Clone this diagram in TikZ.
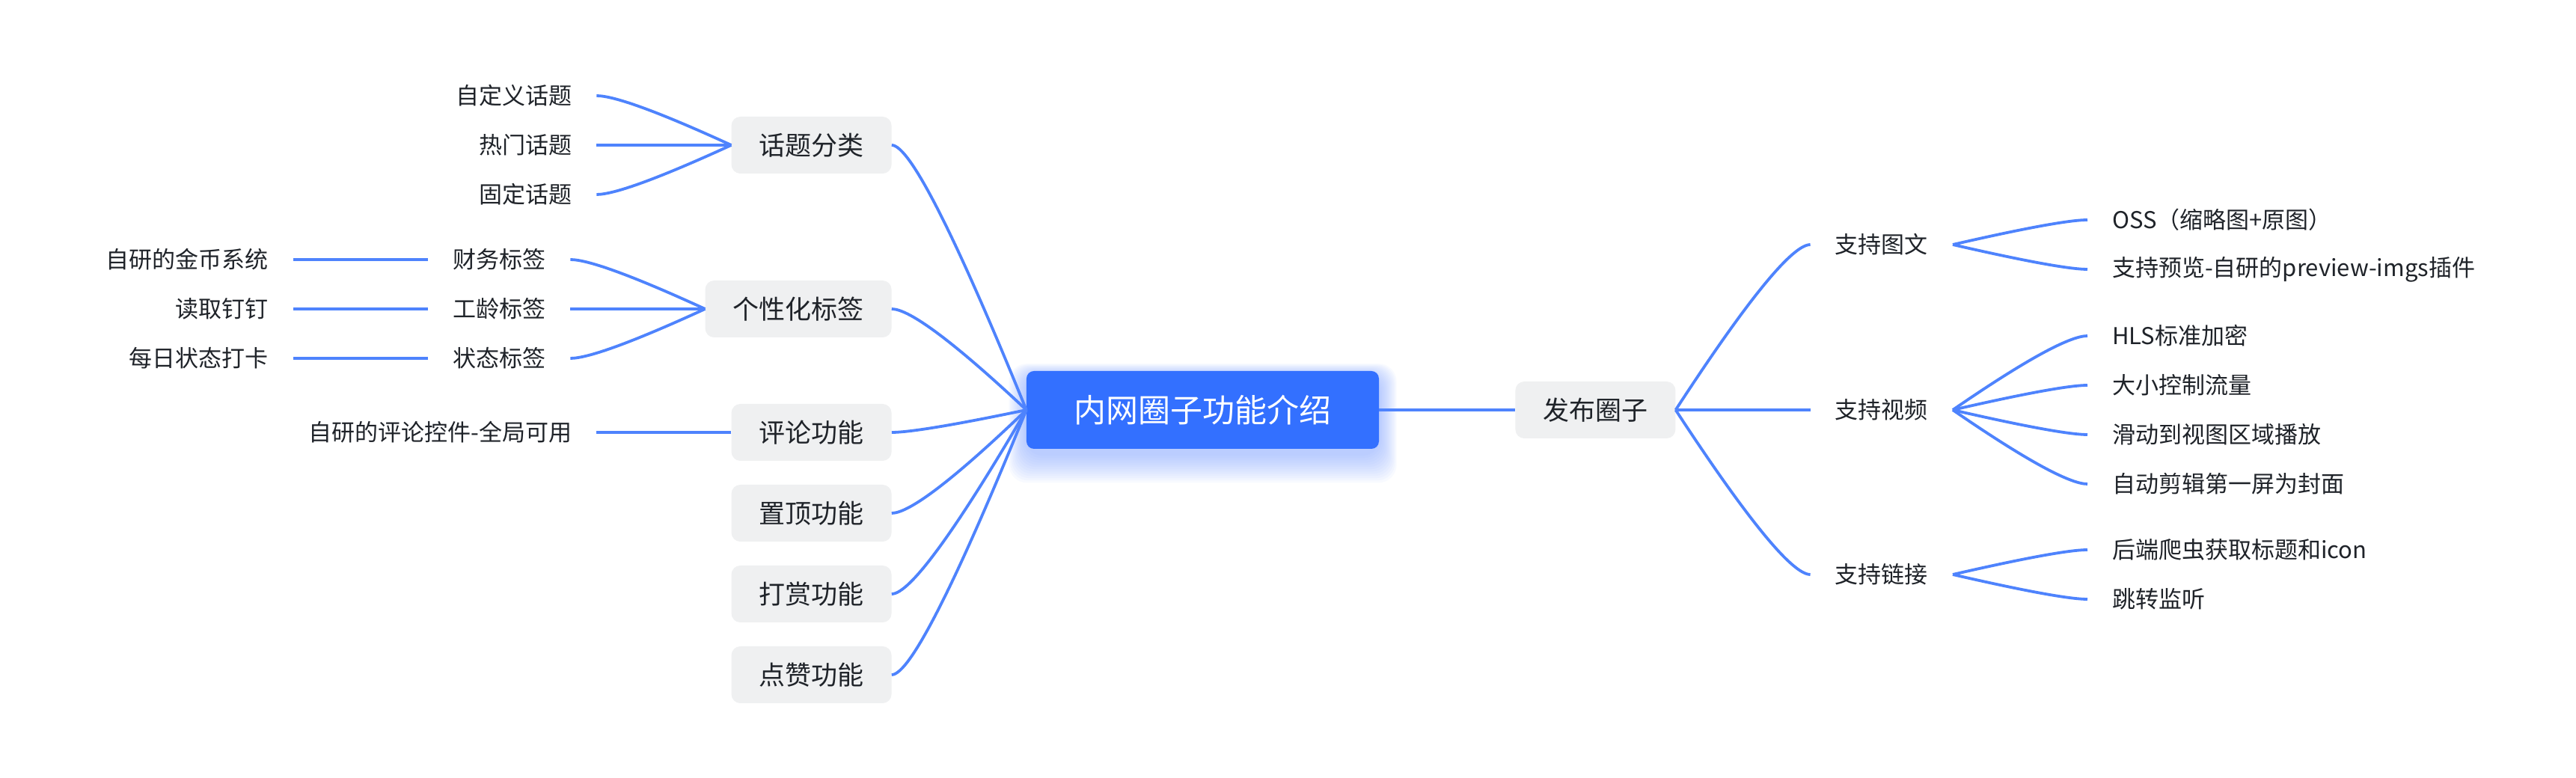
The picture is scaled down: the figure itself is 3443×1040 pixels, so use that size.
\documentclass[tikz,border=0pt]{standalone}
\usepackage{fontspec}
\setmainfont{Noto Sans CJK SC}
\usetikzlibrary{positioning, calc, backgrounds}

\definecolor{rootblue}{HTML}{3370FF}
\definecolor{linkblue}{HTML}{4E83FD}
\definecolor{boxgray}{HTML}{EFF0F1}
\definecolor{inkgray}{HTML}{1F2329}
\definecolor{glowblue}{HTML}{7FA3FF}

\newcommand{\twig}[2]{%
  \draw[link] let \p1=(#1), \p2=(#2) in
    (\p1) .. controls ({\x1+0.533*(\x2-\x1)},{\y1+0.667*(\y2-\y1)})
      and ({\x2-0.133*(\x2-\x1)},\y2) .. (\p2);}

\begin{document}
\begin{tikzpicture}[node distance=180pt and 180pt]
    \tikzset{
      root/.style={
        rectangle, rounded corners=10pt, fill=rootblue, text=white,
        minimum width=471pt, minimum height=104pt, inner sep=0pt,
        font=\fontsize{43}{50}\selectfont
      },
      box/.style={
        rectangle, rounded corners=12pt, fill=boxgray, text=inkgray,
        minimum height=76pt, inner xsep=37pt, inner ysep=0pt,
        font=\fontsize{35}{42}\selectfont
      },
      topic/.style={
        inner xsep=33pt, inner ysep=0pt, minimum height=40pt,
        text=inkgray, font=\fontsize{31}{37}\selectfont
      },
      link/.style={draw=linkblue, line width=3.8pt}
    }

    \begin{scope}[on background layer]
      \fill[white] (-1607.5pt,-492pt) rectangle (1835.5pt,548pt);
    \end{scope}
    \useasboundingbox (-1607.5pt,-492pt) rectangle (1835.5pt,548pt);

    % Root
    \node[root] (root) at (0,0) {内网圈子功能介绍};
    \begin{scope}[on background layer]
      \foreach \k in {3,6,...,39}
        \fill[glowblue, opacity=0.05, rounded corners=24pt]
          ([shift={({-\k*0.6pt},{-\k*1pt-6pt})}]root.south west) rectangle
          ([shift={({\k*0.6pt},{\k*0.4pt-6pt})}]root.north east);
    \end{scope}

    % Right branch
    \node[box, right=182pt of root] (fabu) {发布圈子};
    \node[topic, right=of fabu, yshift=221pt] (tuwen) {支持图文};
    \node[topic, right=of fabu] (shipin) {支持视频};
    \node[topic, right=of fabu, yshift=-220pt] (lianjie) {支持链接};

    \node[topic, right=of tuwen, yshift=33pt] (oss) {OSS（缩略图+原图）};
    \node[topic, right=of tuwen, yshift=-33pt] (yulan) {支持预览-自研的preview-imgs插件};
    \node[topic, right=of shipin, yshift=99pt] (hls) {HLS标准加密};
    \node[topic, right=of shipin, yshift=33pt] (liuliang) {大小控制流量};
    \node[topic, right=of shipin, yshift=-33pt] (bofang) {滑动到视图区域播放};
    \node[topic, right=of shipin, yshift=-99pt] (fengmian) {自动剪辑第一屏为封面};
    \node[topic, right=of lianjie, yshift=33pt] (paqu) {后端爬虫获取标题和icon};
    \node[topic, right=of lianjie, yshift=-33pt] (jianting) {跳转监听};

    % Left branch
    \node[box, left=of root, yshift=354pt] (huati) {话题分类};
    \node[box, left=of root, yshift=135pt] (gexing) {个性化标签};
    \node[box, left=of root, yshift=-30pt] (pinglun) {评论功能};
    \node[box, left=of root, yshift=-138pt] (zhiding) {置顶功能};
    \node[box, left=of root, yshift=-246pt] (dashang) {打赏功能};
    \node[box, left=of root, yshift=-354pt] (dianzan) {点赞功能};

    \node[topic, left=of huati, yshift=66pt] (zidingyi) {自定义话题};
    \node[topic, left=of huati] (remen) {热门话题};
    \node[topic, left=of huati, yshift=-66pt] (guding) {固定话题};
    \node[topic, left=of gexing, yshift=66pt] (caiwu) {财务标签};
    \node[topic, left=of gexing] (gongling) {工龄标签};
    \node[topic, left=of gexing, yshift=-66pt] (zhuangtai) {状态标签};
    \node[topic, left=of caiwu] (jinbi) {自研的金币系统};
    \node[topic, left=of gongling] (dingding) {读取钉钉};
    \node[topic, left=of zhuangtai] (daka) {每日状态打卡};
    \node[topic, left=of pinglun] (kongjian) {自研的评论控件-全局可用};

    % Connectors
    \draw[link] (root) -- (fabu);
    \foreach \kid in {tuwen, shipin, lianjie} \twig{fabu.east}{\kid.west};
    \foreach \kid in {oss, yulan} \twig{tuwen.east}{\kid.west};
    \foreach \kid in {hls, liuliang, bofang, fengmian} \twig{shipin.east}{\kid.west};
    \foreach \kid in {paqu, jianting} \twig{lianjie.east}{\kid.west};

    \foreach \kid in {huati, gexing, pinglun, zhiding, dashang, dianzan} \twig{root.west}{\kid.east};
    \foreach \kid in {zidingyi, remen, guding} \twig{huati.west}{\kid.east};
    \foreach \kid in {caiwu, gongling, zhuangtai} \twig{gexing.west}{\kid.east};
    \draw[link] (caiwu) -- (jinbi);
    \draw[link] (gongling) -- (dingding);
    \draw[link] (zhuangtai) -- (daka);
    \draw[link] (pinglun) -- (kongjian);
  \end{tikzpicture}
\end{document}
